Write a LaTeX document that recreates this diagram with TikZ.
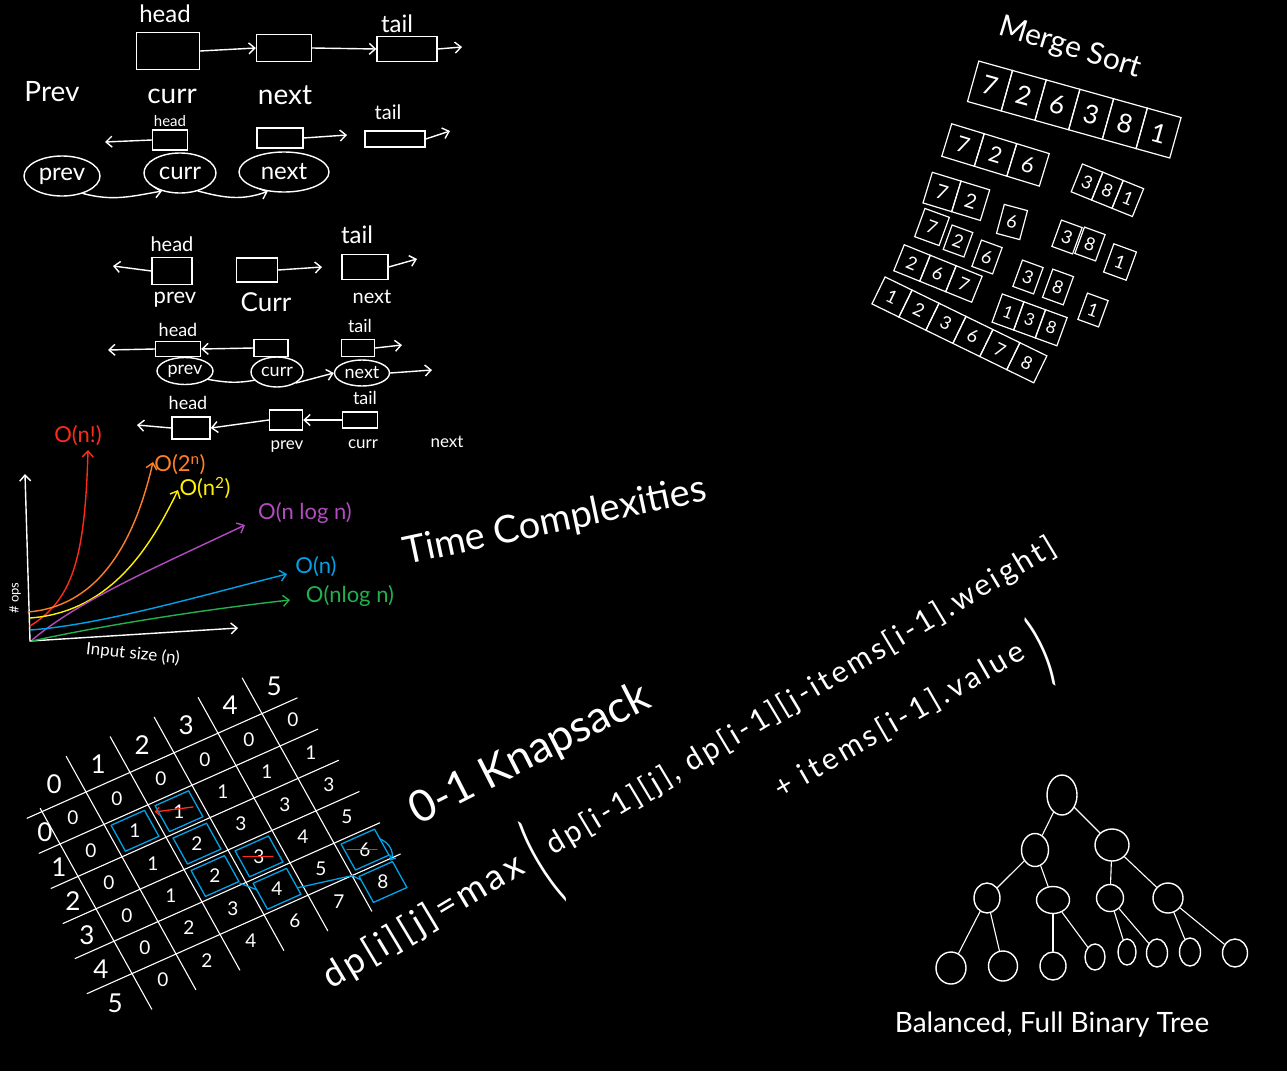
\documentclass[tikz,border=0pt]{standalone}
\usepackage{fontspec}
\usepackage{graphicx}
\setmainfont{Lato}
\usetikzlibrary{arrows.meta,shapes.geometric}
\newcommand\fsz[1]{\fontsize{#1}{#1}\selectfont}
\definecolor{cred}{HTML}{FF2A1A}
\definecolor{corange}{HTML}{FF7F27}
\definecolor{cyellow}{HTML}{FFF200}
\definecolor{cpurple}{HTML}{B34BC0}
\definecolor{cblue}{HTML}{00A2E8}
\definecolor{cgreen}{HTML}{22B14C}
\newcommand\mergearr[8]{%
  \begin{scope}[shift={(#2,#3)},rotate=#4,transform shape,font=\fsz{#8}]
    \foreach \v [count=\k from 0] in {#7}
      \node[cell,minimum width=#5pt,minimum height=#6pt] (#1-\k) at (\k*#5,0) {\v};
  \end{scope}}
\begin{document}
\begin{tikzpicture}[x=1pt,y=-1pt,
  wl/.style={draw=white,line width=1.4pt,line cap=round,line join=round},
  arr/.style={wl,-{Straight Barb[length=6pt,width=11pt]}},
  llbox/.style={draw=white,line width=1.4pt,inner sep=0pt},
  lbl/.style={text=white,inner sep=1pt},
  oval/.style={ellipse,draw=white,line width=1.4pt,inner sep=0pt,text=white},
  cell/.style={draw=white,line width=1.2pt,text=white,inner sep=0pt},
  knum/.style={text=white,inner sep=0pt,font=\fsz{19}},
  bluel/.style={draw=cblue,line width=1.3pt,line join=round,line cap=round},
  redl/.style={draw=cred,line width=1.3pt,line cap=round},
  tnode/.style={ellipse,draw=white,line width=1.4pt,inner sep=0pt},
]
\fill[black] (0,0) rectangle (1287,1071);
\useasboundingbox (0,0) rectangle (1287,1071);

% ================= linked list, row 1
\node[lbl,font=\fsz{24}] (r1head) at (165,14) {head};
\node[llbox,minimum width=63pt,minimum height=37pt] (r1a) at (168,51) {};
\node[llbox,minimum width=55pt,minimum height=27pt] (r1b) at (284,48) {};
\node[lbl,font=\fsz{24}] (r1tail) at (397,24) {tail};
\node[llbox,minimum width=60pt,minimum height=25pt] (r1c) at (407,49) {};
\coordinate (r1end) at (462,47);
\draw[arr] (r1a.east) -- (r1b.west);
\draw[arr] (r1b.east) -- (r1c.west);
\draw[arr] (r1c.east) -- (r1end);
\node[lbl,font=\fsz{28}] (lprev) at (52,92) {Prev};
\node[lbl,font=\fsz{28}] (lcurr) at (172,96) {curr};
\node[lbl,font=\fsz{28}] (lnext) at (285,95) {next};
% row 2
\node[lbl,font=\fsz{15}] (r2head) at (170,121) {head};
\node[llbox,minimum width=35pt,minimum height=20pt] (r2a) at (170,140) {};
\coordinate (r2left) at (105,142);
\draw[arr] (r2a.west) -- (r2left);
\node[llbox,minimum width=46pt,minimum height=20pt] (r2b) at (280,138) {};
\coordinate (r2bend) at (347,135);
\draw[arr] (r2b.east) -- (r2bend);
\node[lbl,font=\fsz{20}] (r2tail) at (388,112) {tail};
\node[llbox,minimum width=60pt,minimum height=16pt] (r2c) at (395,139) {};
\coordinate (r2end) at (450,131);
\draw[arr] (r2c.east) -- (r2end);
\node[oval,minimum width=76pt,minimum height=40pt,font=\fsz{24}] (e2p) at (62,176) {prev};
\node[oval,minimum width=72pt,minimum height=40pt,font=\fsz{24}] (e2c) at (180,173) {curr};
\node[oval,minimum width=90pt,minimum height=40pt,font=\fsz{24}] (e2n) at (284,172) {next};
\draw[arr] (e2p.-40) to[out=-15,in=190] (e2c.-135);
\draw[arr] (e2c.-45) to[out=-15,in=200] (e2n.-130);
% row 3
\node[lbl,font=\fsz{20}] (r3head) at (172,244) {head};
\node[llbox,minimum width=40pt,minimum height=27pt] (r3a) at (172,271) {};
\coordinate (r3left) at (113,266);
\draw[arr] (r3a.west) -- (r3left);
\node[llbox,minimum width=41pt,minimum height=24pt] (r3b) at (257,270) {};
\coordinate (r3bend) at (322,267);
\draw[arr] (r3b.east) -- (r3bend);
\node[lbl,font=\fsz{24}] (r3tail) at (357,235) {tail};
\node[llbox,minimum width=46pt,minimum height=25pt] (r3c) at (365,267) {};
\coordinate (r3end) at (417,259);
\draw[arr] (r3c.east) -- (r3end);
\node[lbl,font=\fsz{22}] (r3prev) at (175,300) {prev};
\node[lbl,font=\fsz{26}] (r3curr) at (266,302) {Curr};
\node[lbl,font=\fsz{20}] (r3next) at (372,297) {next};
% row 4
\node[lbl,font=\fsz{18}] (r4head) at (178,330) {head};
\node[llbox,minimum width=45pt,minimum height=15pt] (r4a) at (178,349) {};
\coordinate (r4left) at (108,350);
\draw[arr] (r4a.west) -- (r4left);
\node[llbox,minimum width=34pt,minimum height=17pt] (r4b) at (271,348) {};
\draw[arr] (r4b.west) -- (r4a.east);
\node[lbl,font=\fsz{18}] (r4tail) at (360,326) {tail};
\node[llbox,minimum width=33pt,minimum height=17pt] (r4c) at (358,348) {};
\coordinate (r4end) at (402,345);
\draw[arr] (r4c.east) -- (r4end);
\node[oval,minimum width=56pt,minimum height=27pt,font=\fsz{18}] (e4p) at (185,371) {prev};
\node[oval,minimum width=52pt,minimum height=30pt,font=\fsz{18}] (e4c) at (277,372) {curr};
\node[oval,minimum width=55pt,minimum height=26pt,font=\fsz{18}] (e4n) at (362,373) {next};
\draw[wl] (e4p.-20) to[out=-10,in=190] (e4c.200);
\draw[arr] (e4c.-30) -- (e4n.west);
\coordinate (e4end) at (432,370);
\draw[arr] (e4n.east) -- (e4end);
% row 5
\node[lbl,font=\fsz{18}] (r5head) at (188,403) {head};
\node[llbox,minimum width=38pt,minimum height=22pt] (r5a) at (191,428) {};
\coordinate (r5left) at (137,425);
\draw[arr] (r5a.west) -- (r5left);
\node[llbox,minimum width=33pt,minimum height=20pt] (r5b) at (286,420) {};
\draw[arr] (r5b.west) -- (r5a.east);
\node[lbl,font=\fsz{18}] (r5tail) at (365,398) {tail};
\node[llbox,minimum width=35pt,minimum height=16pt] (r5c) at (360,420) {};
\draw[arr] (r5c.west) -- (r5b.east);
\node[lbl,font=\fsz{17}] (r5prev) at (287,447) {prev};
\node[lbl,font=\fsz{17}] (r5curr) at (363,444) {curr};
\node[lbl,font=\fsz{17}] (r5next) at (447,442) {next};

% ================= time complexity chart
\coordinate (org) at (30,641);
\coordinate (ytop) at (25,474);
\coordinate (xend) at (238,628);
\draw[arr] (org) -- (ytop);
\draw[arr] (org) -- (xend);
\node[lbl,font=\fsz{17},rotate=-6] (xlab) at (133,654) {Input size (n)};
\node[lbl,font=\fsz{13},rotate=90] (ylab) at (15,598) {\# ops};
\coordinate (cr0) at (30,626); \coordinate (cr1) at (88,450);
\draw[arr,draw=cred] (cr0) .. controls (72,600) and (85,560) .. (cr1);
\node[text=cred,font=\fsz{22}] (lr) at (78,436) {O(n!)};
\coordinate (co0) at (28,612); \coordinate (co1) at (153,462);
\draw[arr,draw=corange] (co0) .. controls (100,606) and (135,540) .. (co1);
\node[text=corange,font=\fsz{22}] (lo) at (180,465) {O(2\textsuperscript{n})};
\coordinate (cy0) at (30,618); \coordinate (cy1) at (178,490);
\draw[arr,draw=cyellow] (cy0) .. controls (110,612) and (150,548) .. (cy1);
\node[text=cyellow,font=\fsz{22}] (ly) at (205,488) {O(n\textsuperscript{2})};
\coordinate (cp0) at (32,640); \coordinate (cp1) at (245,525);
\draw[arr,draw=cpurple] (cp0) .. controls (80,600) and (150,570) .. (cp1);
\node[text=cpurple,font=\fsz{22}] (lp) at (305,513) {O(n log n)};
\coordinate (cb0) at (30,630); \coordinate (cb1) at (287,574);
\draw[arr,draw=cblue] (cb0) .. controls (100,625) and (200,596) .. (cb1);
\node[text=cblue,font=\fsz{22}] (lb) at (316,567) {O(n)};
\coordinate (cg0) at (32,641); \coordinate (cg1) at (290,600);
\draw[arr,draw=cgreen] (cg0) .. controls (100,626) and (200,610) .. (cg1);
\node[text=cgreen,font=\fsz{22}] (lg) at (350,596) {O(nlog n)};
\node[lbl,font=\fsz{38},rotate=12] (ttc) at (555,522) {Time Complexities};

% ================= merge sort
\node[lbl,font=\fsz{30},rotate=-17] (msort) at (1070,48) {Merge Sort};
\mergearr{m0}{990}{86}{-15.6}{35}{42}{7,2,6,3,8,1}{26}
\mergearr{m1a}{963}{145}{-17}{34}{34}{7,2,6}{22}
\mergearr{m1b}{1087}{182}{-22}{22}{30}{3,8,1}{18}
\mergearr{m2a}{942}{192}{-17}{30}{32}{7,2}{20}
\mergearr{m2b}{1012}{222}{-15}{24}{30}{6}{18}
\mergearr{m3a}{932}{227}{-20}{26}{30}{7}{18}
\mergearr{m3b}{958}{241}{-20}{22}{26}{2}{18}
\mergearr{m3c}{987}{257}{-20}{22}{28}{6}{18}
\mergearr{m3d}{1067}{237}{-20}{22}{28}{3}{18}
\mergearr{m3e}{1090}{244}{-20}{22}{28}{8}{18}
\mergearr{m3f}{1120}{262}{-20}{24}{30}{1}{18}
\mergearr{m4a}{912}{263}{-22}{28}{28}{2,6,7}{18}
\mergearr{m4b}{1028}{277}{-20}{22}{28}{3}{18}
\mergearr{m4c}{1058}{287}{-20}{22}{30}{8}{18}
\mergearr{m4d}{1093}{310}{-20}{22}{28}{1}{18}
\mergearr{m5a}{892}{297}{-26}{30}{30}{1,2,3,6,7,8}{18}
\mergearr{m5b}{1008}{312}{-20}{23}{30}{1,3,8}{17}

% ================= knapsack table
\begin{scope}[shift={(73,818)},x={(44pt,19.6pt)},y={(18pt,-32.4pt)}]
  \foreach \r in {-0.5,0.5,...,4.5}
    \draw[wl,line width=1.1pt] (-0.84-0.136*\r-0.068,\r) -- (5.33+0.06*\r,\r);
  \draw[wl,line width=1.1pt] (-0.5,-0.6) -- (-0.5,5.6);
  \foreach \c in {0.5,1.5,...,4.5} \draw[wl,line width=1.1pt] (\c,-1.6) -- (\c,5.6);
  \foreach \c in {0,...,5} \node[knum,font=\fsz{26}] (kc-\c) at (\c,-1.05) {\c};
  \foreach \r in {0,...,5} \node[knum,font=\fsz{26}] (kr-\r) at (-0.66-0.09*\r,\r+0.05) {\r};
  \foreach \vals [count=\r from 0] in {{0,0,0,0,0,0},{0,1,1,1,1,1},{0,1,2,3,3,3},{0,1,2,3,4,5},{0,2,3,4,5,6},{0,2,4,6,7,8}}
    \foreach \v [count=\c from 0] in \vals
      \node[knum] (k-\c-\r) at (\c,\r) {\v};
  \foreach \c/\r in {1/1,2/1,2/2,2/3,3/3,3/4,5/4,5/5}
    \draw[bluel] (\c-.38,\r-.4) -- (\c+.38,\r-.4) -- (\c+.38,\r+.4) -- (\c-.38,\r+.4) -- cycle;
  \draw[bluel] (2.38,3.45) -- (2.62,3.8);
  \draw[bluel] (3.38,4.2) -- (4.5,4.5) -- (4.62,4.7);
  \draw[bluel,-{Straight Barb[length=4pt,width=7pt]}] (5.38,3.9) to[out=-20,in=60] (5.35,4.55);
  \draw[redl,-{Straight Barb[length=4pt,width=8pt]}] (2.3,1.05) -- (1.55,0.75);
  \draw[redl] ([xshift=-16pt]k-3-3.center) -- ([xshift=14pt]k-3-3.center);
  \draw[redl] ([xshift=-18pt]k-5-4.center) -- ([xshift=12pt]k-5-4.center);
\end{scope}
\node[lbl,font=\fsz{44},rotate=27] (knap) at (530,755) {0-1 Knapsack};
\node[lbl,rotate=31,anchor=base west] (f1) at (330,990)
  {\addfontfeature{LetterSpace=10}{\fsz{36}dp[i][j]=max}\hspace{12pt}\raisebox{-31pt}{\scalebox{1}[3]{\fsz{34}(}}\hspace{10pt}{\fsz{30}dp[i-1][j], dp[i-1][j-items[i-1].weight]}};
\node[lbl,rotate=30,anchor=base west] (f2) at (780,800)
  {\addfontfeature{LetterSpace=12}\fsz{30}+ items[i-1].value};
\node[lbl,rotate=24] (fclose) at (1042,651) {\scalebox{1}[2.4]{\fsz{34})}};

% ================= binary tree
\node[tnode,minimum width=30pt,minimum height=40pt] (t1) at (1062,795) {};
\node[tnode,minimum width=27pt,minimum height=33pt] (t2) at (1035,850) {};
\node[tnode,minimum width=34pt,minimum height=32pt] (t3) at (1112,845) {};
\node[tnode,minimum width=26pt,minimum height=30pt] (t4) at (987,898) {};
\node[tnode,minimum width=33pt,minimum height=27pt] (t5) at (1053,900) {};
\node[tnode,minimum width=27pt,minimum height=27pt] (t6) at (1110,898) {};
\node[tnode,minimum width=30pt,minimum height=30pt] (t7) at (1168,898) {};
\node[tnode,minimum width=30pt,minimum height=32pt] (t8) at (951,968) {};
\node[tnode,minimum width=29pt,minimum height=30pt] (t9) at (1003,966) {};
\node[tnode,minimum width=26pt,minimum height=28pt] (t10) at (1053,966) {};
\node[tnode,minimum width=20pt,minimum height=26pt] (t11) at (1095,957) {};
\node[tnode,minimum width=18pt,minimum height=26pt] (t12) at (1127,952) {};
\node[tnode,minimum width=21pt,minimum height=28pt] (t13) at (1157,953) {};
\node[tnode,minimum width=21pt,minimum height=28pt] (t14) at (1190,952) {};
\node[tnode,minimum width=25pt,minimum height=28pt] (t15) at (1235,953) {};
\foreach \a/\b in {t1/t2,t1/t3,t2/t4,t2/t5,t3/t6,t3/t7,t4/t8,t4/t9,t5/t10,t5/t11,t6/t12,t6/t13,t7/t14,t7/t15}
  \draw[wl,line width=1.1pt] (\a) -- (\b);
\node[lbl,font=\fsz{28}] (tlabel) at (1052,1025) {Balanced, Full Binary Tree};
\end{tikzpicture}
\end{document}
